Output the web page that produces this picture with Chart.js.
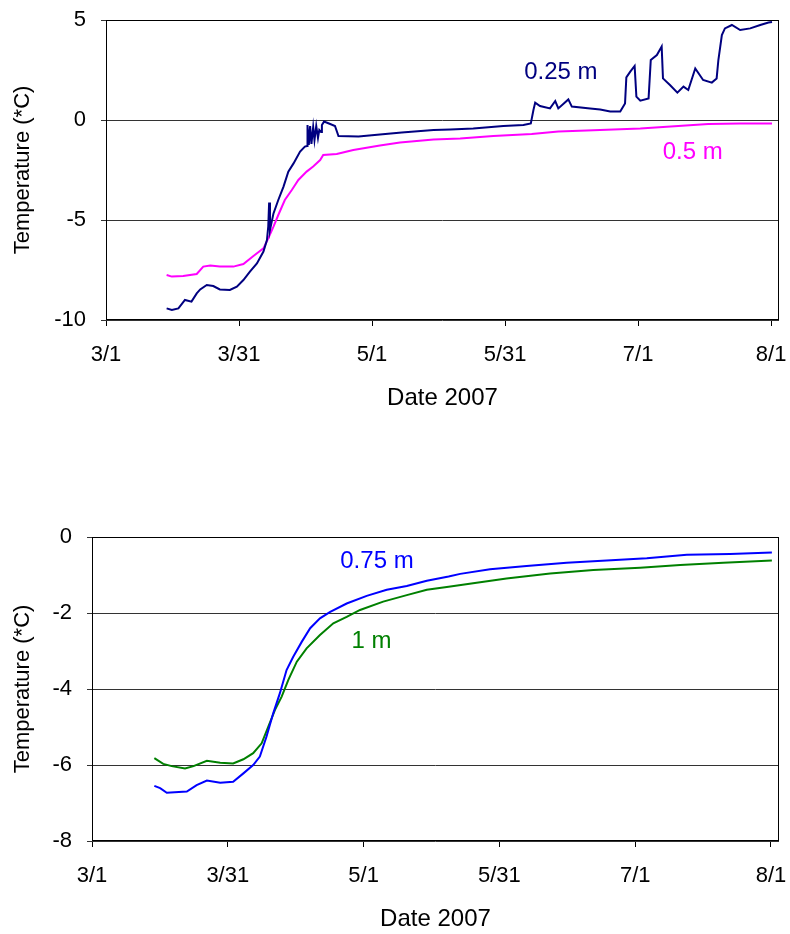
<!DOCTYPE html>
<html lang="en">
<head>
  <meta charset="UTF-8">
  <title>Temperature 2007</title>
  <script src="https://cdn.jsdelivr.net/npm/chart.js"></script>
  <style>
    body {
      margin: 0;
      background: #fff;
    }
    .wrap {
      position: relative;
      width: 790px;
      height: 934px;
    }
    canvas {
      position: absolute;
      left: 0;
    }
    #topChart { top: 0; }
    #bottomChart { top: 440px; }
  </style>
</head>
<body>
  <div class="wrap">
    <canvas id="topChart" width="790" height="413"></canvas>
    <canvas id="bottomChart" width="790" height="494"></canvas>
  </div>

  <script>
    // x values are days after 3/1/2007
    const tickDays = [0, 30.5, 61, 91.5, 122, 152.5];
    const tickLabels = ['3/1', '3/31', '5/1', '5/31', '7/1', '8/1'];

    // 0.25 m
    const days025 = [13.9, 15.1, 16.6, 18.1, 19.6, 20.8, 21.6, 23.1, 24.6, 26.1, 28.4, 30.0, 31.5, 33.0, 34.6, 36.1, 36.9, 37.2, 37.4, 37.6,
      38.4, 39.5, 40.7, 41.8, 43.0, 44.5, 45.6, 46.1, 46.2, 46.5, 46.8, 47.1, 47.5, 47.8, 48.2, 48.6, 48.9, 49.3, 49.5, 50.0,
      51.4, 52.5, 53.3, 57.9, 62.8, 67.8, 75.1, 78.9, 84.2, 91.1, 95.7, 97.4, 98.0, 98.4, 99.5, 101.8, 103.0, 103.7, 106.0, 106.8,
      111.0, 113.3, 115.6, 117.9, 119.0, 119.3, 120.2, 121.2, 121.6, 122.5, 124.4, 124.9, 126.3, 127.4, 127.7, 129.3, 131.0, 132.4, 133.5, 135.1,
      136.9, 138.9, 140.0, 140.4, 141.2, 141.9, 143.5, 145.4, 147.7, 150.0, 151.9, 152.7];
    const temp025 = [-9.42, -9.5, -9.42, -9.0, -9.08, -8.67, -8.47, -8.25, -8.3, -8.47, -8.5, -8.33, -8.0, -7.58, -7.17, -6.58, -6.0, -5.33, -4.13, -5.5,
      -4.67, -4.0, -3.33, -2.58, -2.17, -1.58, -1.33, -1.3, -0.25, -1.25, -0.3, -1.2, -0.35, -1.0, -0.3, -0.9, -0.5, -0.6, -0.25, -0.08,
      -0.2, -0.3, -0.8, -0.83, -0.72, -0.62, -0.5, -0.47, -0.42, -0.3, -0.25, -0.17, 0.5, 0.87, 0.7, 0.58, 0.95, 0.58, 1.03, 0.67,
      0.58, 0.53, 0.42, 0.42, 0.83, 2.13, 2.42, 2.7, 1.17, 0.97, 1.08, 3.0, 3.25, 3.67, 2.08, 1.75, 1.37, 1.67, 1.5, 2.58,
      2.0, 1.87, 2.08, 3.0, 4.25, 4.58, 4.75, 4.5, 4.58, 4.75, 4.87, 4.9];

    // 0.5 m
    const days05 = [13.9, 15.1, 17.7, 20.8, 22.3, 23.9, 26.1, 29.2, 31.5, 33.8, 36.1, 37.2, 38.4, 39.5, 41.0, 42.6, 44.1, 46.0,
      47.5, 49.1, 49.8, 52.9, 56.7, 62.8, 67.4, 75.1, 81.2, 88.8, 97.6, 103.7, 110.2, 122.5, 131.2, 138.1, 145.4, 152.7];
    const temp05 = [-7.75, -7.83, -7.8, -7.7, -7.33, -7.28, -7.33, -7.33, -7.2, -6.8, -6.42, -5.92, -5.33, -4.75, -4.0, -3.5, -3.0, -2.58,
      -2.33, -2.0, -1.75, -1.7, -1.5, -1.28, -1.13, -0.97, -0.92, -0.8, -0.7, -0.58, -0.53, -0.42, -0.3, -0.2, -0.17, -0.17];

    // 0.75 m
    const days075 = [14.0, 15.3, 16.8, 21.3, 23.5, 25.8, 28.8, 31.7, 34.0, 36.2, 37.7, 39.2, 40.7, 42.2, 43.7, 45.2, 47.1, 49.0,
      51.2, 53.5, 57.2, 61.7, 66.2, 70.7, 75.2, 80.1, 82.7, 89.4, 97.6, 106.6, 115.6, 124.6, 133.6, 143.3, 152.7];
    const temp075 = [-6.55, -6.61, -6.73, -6.70, -6.53, -6.41, -6.47, -6.44, -6.22, -6.0, -5.78, -5.25, -4.64, -4.11, -3.5, -3.15, -2.76, -2.4,
      -2.14, -1.97, -1.75, -1.55, -1.39, -1.29, -1.15, -1.04, -0.97, -0.85, -0.76, -0.68, -0.62, -0.56, -0.47, -0.45, -0.41];

    // 1 m
    const days1 = [14.0, 16.0, 17.9, 20.9, 22.8, 25.8, 28.8, 31.7, 34.0, 36.2, 38.1, 39.6, 41.1, 42.6, 44.1, 46.0, 48.2,
      51.2, 54.2, 57.2, 60.2, 65.4, 70.7, 75.2, 80.1, 85.6, 93.1, 102.9, 112.6, 123.1, 132.1, 141.8, 152.7];
    const temp1 = [-5.82, -5.97, -6.03, -6.09, -6.03, -5.89, -5.94, -5.96, -5.85, -5.69, -5.43, -4.99, -4.55, -4.2, -3.76, -3.28, -2.93,
      -2.58, -2.27, -2.1, -1.92, -1.70, -1.53, -1.39, -1.31, -1.22, -1.09, -0.96, -0.87, -0.81, -0.74, -0.68, -0.62];

    // series labels written inside the plots (day, temperature)
    const topLabels = ['0.25 m', '0.5 m'];
    const topLabelDays = [104.3, 134.5];
    const topLabelTemps = [2.4, -1.6];
    const bottomLabels = ['0.75 m', '1 m'];
    const bottomLabelDays = [64.0, 62.8];
    const bottomLabelTemps = [-0.65, -2.75];

    const FONT = "'Liberation Sans', Arial, sans-serif";

    function toPoints(xs, ys) {
      return xs.map((x, i) => ({ x: x, y: ys[i] }));
    }

    // no extra room for labels hanging over the plot edges
    function noPadding(scale) {
      scale.paddingTop = 0;
      scale.paddingBottom = 0;
      scale.paddingLeft = 0;
      scale.paddingRight = 0;
    }

    const framePlugin = {
      id: 'frame',
      beforeDatasetsDraw(chart) {
        const a = chart.chartArea;
        const ctx = chart.ctx;
        ctx.save();
        ctx.strokeStyle = '#000';
        ctx.lineWidth = 1;
        ctx.strokeRect(Math.round(a.left) + 0.5, Math.round(a.top) + 0.5,
          Math.round(a.right - a.left) - 1, Math.round(a.bottom - a.top) - 1);
        ctx.restore();
      }
    };

    const textPlugin = {
      id: 'seriesText',
      afterDatasetsDraw(chart, args, opts) {
        const ctx = chart.ctx;
        ctx.save();
        ctx.font = '24px ' + FONT;
        ctx.textAlign = 'center';
        ctx.textBaseline = 'middle';
        opts.texts.forEach((t, i) => {
          ctx.fillStyle = opts.colors[i];
          ctx.fillText(t, chart.scales.x.getPixelForValue(opts.days[i]), chart.scales.y.getPixelForValue(opts.temps[i]));
        });
        ctx.restore();
      }
    };

    function makeChart(id, datasets, yMin, yMax, yStep, yWidth, padTop, labels) {
      return new Chart(document.getElementById(id), {
        type: 'line',
        data: { datasets: datasets },
        plugins: [framePlugin, textPlugin],
        options: {
          responsive: false,
          animation: false,
          layout: { padding: { top: padTop, right: 11, left: 0, bottom: 0 } },
          plugins: {
            legend: { display: false },
            tooltip: { enabled: false },
            seriesText: labels
          },
          elements: {
            point: { radius: 0 },
            line: { borderWidth: 2, tension: 0 }
          },
          scales: {
            x: {
              type: 'linear',
              min: 0,
              max: 154.3,
              afterBuildTicks: scale => { scale.ticks = tickDays.map(v => ({ value: v })); },
              afterFit: scale => { scale.height = 93; noPadding(scale); },
              grid: { drawOnChartArea: false, drawTicks: true, tickLength: 6, color: '#000' },
              border: { display: false },
              ticks: {
                autoSkip: false,
                maxRotation: 0,
                padding: 16,
                color: '#000',
                font: { family: FONT, size: 22 },
                callback: (v, i) => tickLabels[i]
              },
              title: {
                display: true,
                text: 'Date 2007',
                color: '#000',
                font: { family: FONT, size: 24 },
                padding: { top: 0, bottom: 0 }
              }
            },
            y: {
              min: yMin,
              max: yMax,
              afterFit: scale => { scale.width = yWidth; noPadding(scale); },
              grid: { color: '#333', lineWidth: 1, tickLength: 5 },
              border: { display: false },
              ticks: {
                stepSize: yStep,
                padding: 15,
                color: '#000',
                font: { family: FONT, size: 22 }
              },
              title: {
                display: true,
                text: 'Temperature (*C)',
                color: '#000',
                font: { family: FONT, size: 22 },
                padding: { top: 10, bottom: 0 }
              }
            }
          }
        }
      });
    }

    makeChart('topChart', [
      { label: '0.25 m', data: toPoints(days025, temp025), borderColor: '#000080' },
      { label: '0.5 m', data: toPoints(days05, temp05), borderColor: '#FF00FF' }
    ], -10, 5, 5, 106, 20, {
      texts: topLabels, days: topLabelDays, temps: topLabelTemps, colors: ['#000080', '#FF00FF']
    });

    makeChart('bottomChart', [
      { label: '0.75 m', data: toPoints(days075, temp075), borderColor: '#0000FF' },
      { label: '1 m', data: toPoints(days1, temp1), borderColor: '#008000' }
    ], -8, 0, 2, 92, 97, {
      texts: bottomLabels, days: bottomLabelDays, temps: bottomLabelTemps, colors: ['#0000FF', '#008000']
    });
  </script>
</body>
</html>
